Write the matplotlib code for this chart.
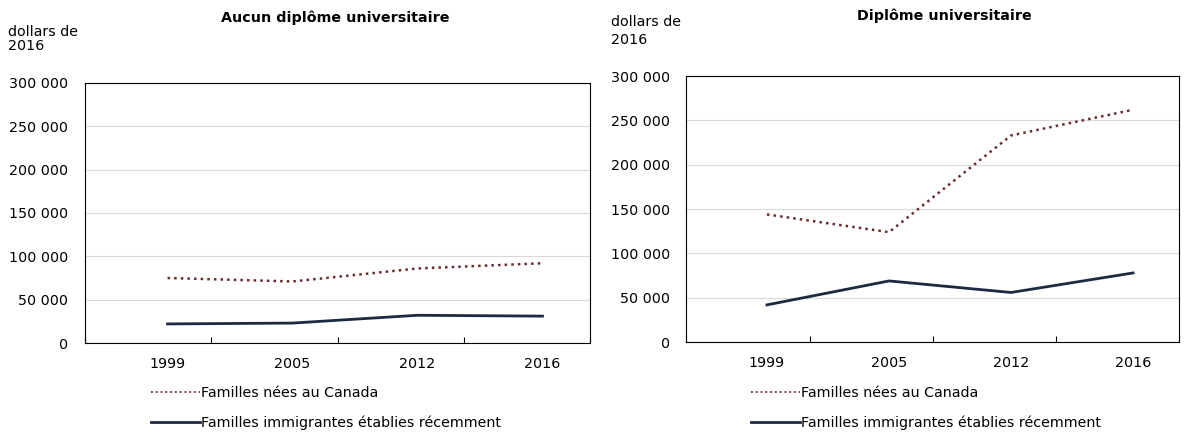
import matplotlib.pyplot as plt
from matplotlib.ticker import FuncFormatter

years = ['1999', '2005', '2012', '2016']
left_canada = [75000, 71000, 86000, 92000]
left_immig = [22000, 23000, 32000, 31000]
right_canada = [144000, 124000, 233000, 262000]
right_immig = [42000, 69000, 56000, 78000]

plt.rcParams['font.family'] = ['DejaVu Sans']
plt.rcParams['font.size'] = 10.3

red = '#6b2a2a'
navy = '#1b2a41'

fig = plt.figure(figsize=(11.98, 4.32), dpi=100)
ax1 = fig.add_axes([0.071, 0.206, 0.4215, 0.602])
ax2 = fig.add_axes([0.573, 0.208, 0.4115, 0.616])

fmt = FuncFormatter(lambda v, p: f'{int(v):,}'.replace(',', ' '))

panels = [(ax1, 'Aucun diplôme universitaire', left_canada, left_immig, 0.2795, 0.975, 0.007, 0.942, 1.0),
          (ax2, 'Diplôme universitaire', right_canada, right_immig, 0.788, 0.98, 0.51, 0.965, 1.35)]
for ax, title, can, imm, tx, ty, lx, ly, ls in panels:
    x = range(len(years))
    ax.plot(x, can, ':', color=red, lw=1.8, label='Familles nées au Canada')
    ax.plot(x, imm, '-', color=navy, lw=2, label='Familles immigrantes établies récemment')
    ax.set_xticks(list(x))
    ax.set_xticklabels(years)
    ax.set_xticks([-0.66 + k * 1.01 for k in range(5)], minor=True)
    ax.set_xlim(-0.66, 3.38)
    ax.set_ylim(0, 300000)
    ax.set_yticks(range(0, 300001, 50000))
    ax.yaxis.set_major_formatter(fmt)
    ax.grid(axis='y', color='#d9d9d9', lw=0.8)
    ax.set_axisbelow(True)
    ax.tick_params(axis='y', length=0, pad=12)
    ax.tick_params(axis='x', which='major', length=0, pad=10)
    ax.tick_params(axis='x', which='minor', length=4, width=0.8, direction='in')
    for s in ax.spines.values():
        s.set_color('#000000')
        s.set_linewidth(0.8)
    fig.text(tx, ty, title, fontweight='bold', fontsize=10.3, ha='center', va='top')
    fig.text(lx, ly, 'dollars de\n2016', ha='left', va='top', linespacing=ls)
    leg = ax.legend(loc='upper left', bbox_to_anchor=(0.12, -0.145), frameon=False,
                    handlelength=3.4, handletextpad=0.1, borderaxespad=0, labelspacing=1.05)
    leg.get_lines()[0].set_linewidth(1.3)

fig.savefig('out.png', dpi=100)
